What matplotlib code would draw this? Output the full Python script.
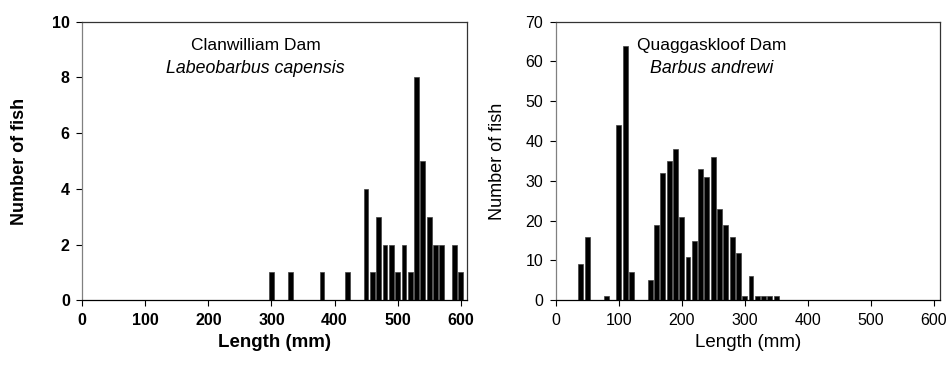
import matplotlib
matplotlib.use("Agg")
import matplotlib.pyplot as plt

plt.rcParams["font.family"] = ["Liberation Sans", "DejaVu Sans"]

# Clanwilliam Dam, Labeobarbus capensis (10 mm length classes)
clan_len = [300, 330, 380, 420, 450, 460, 470, 480, 490, 500,
            510, 520, 530, 540, 550, 560, 570, 580, 590, 600]
clan_n = [1, 1, 1, 1, 4, 1, 3, 2, 2, 1,
          2, 1, 8, 5, 3, 2, 2, 0, 2, 1]

# Quaggaskloof Dam, Barbus andrewi
quag_len = [40, 50, 80, 100, 110, 120, 150, 160, 170, 180, 190, 200,
            210, 220, 230, 240, 250, 260, 270, 280, 290, 300, 310,
            320, 330, 340, 350]
quag_n = [9, 16, 1, 44, 64, 7, 5, 19, 32, 35, 38, 21,
          11, 15, 33, 31, 36, 23, 19, 16, 12, 1, 6,
          1, 1, 1, 1]

x_ticks = [0, 100, 200, 300, 400, 500, 600]


def style_axes(ax, bold, ymax, ystep, ylab_x):
    weight = "bold" if bold else "normal"
    ax.set_xlim(0, 610)
    ax.set_ylim(0, ymax)
    ax.set_xticks(x_ticks)
    ax.set_yticks(range(0, ymax + 1, ystep))
    ax.tick_params(direction="out", length=4, width=0.8, labelsize=11.5, colors="black")
    ax.tick_params(axis="x", pad=5)
    ax.tick_params(axis="y", pad=5)
    for lab in ax.get_xticklabels() + ax.get_yticklabels():
        lab.set_fontweight(weight)
    ax.spines["left"].set_color("#808080")
    for s in ["top", "right"]:
        ax.spines[s].set_color("#333333")
    ax.spines["bottom"].set_color("black")
    for s in ax.spines.values():
        s.set_linewidth(0.9)
    ax.set_xlabel("Length (mm)", fontsize=13.5, fontweight=weight)
    ax.set_ylabel("Number of fish", fontsize=13, fontweight=weight)
    ax.xaxis.set_label_coords(0.5, -0.12)
    ax.yaxis.set_label_coords(ylab_x, 0.5)


fig = plt.figure(figsize=(9.5, 3.78), dpi=100)
ax1 = fig.add_axes([0.0866, 0.2056, 0.405, 0.737])
ax2 = fig.add_axes([0.585, 0.2056, 0.4045, 0.737])

ax1.bar(clan_len, clan_n, width=7.6, color="black", edgecolor="#404040", linewidth=0.5)
style_axes(ax1, True, 10, 2, -0.14)
ax1.text(0.45, 0.90, "Clanwilliam Dam", transform=ax1.transAxes, ha="center", va="baseline", fontsize=12.5)
ax1.text(0.45, 0.815, "Labeobarbus capensis", transform=ax1.transAxes, ha="center", va="baseline",
         fontsize=12.8, style="italic")

ax2.bar(quag_len, quag_n, width=7.8, color="black", edgecolor="#404040", linewidth=0.5)
style_axes(ax2, False, 70, 10, -0.13)
ax2.text(0.407, 0.90, "Quaggaskloof Dam", transform=ax2.transAxes, ha="center", va="baseline", fontsize=12.5)
ax2.text(0.407, 0.815, "Barbus andrewi", transform=ax2.transAxes, ha="center", va="baseline",
         fontsize=12.8, style="italic")

fig.savefig("out.png", dpi=100)
